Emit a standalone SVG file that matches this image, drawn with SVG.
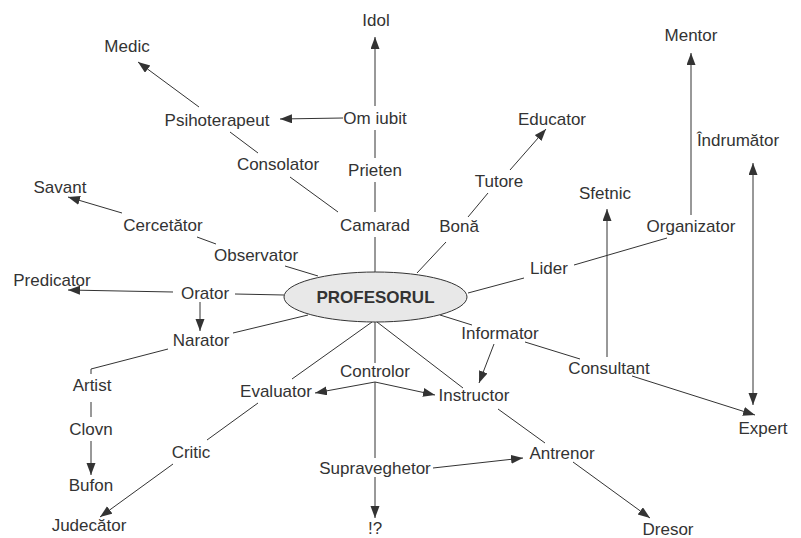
<svg xmlns="http://www.w3.org/2000/svg" width="801" height="538" viewBox="0 0 801 538">
<defs>
<marker id="ah" markerUnits="userSpaceOnUse" markerWidth="13" markerHeight="10" refX="12" refY="4.5" orient="auto-start-reverse">
<path d="M0,0 L12,4.5 L0,9 z" fill="#333"/>
</marker>
<style>
text{font-family:"Liberation Sans",Arial,sans-serif;font-size:17px;fill:#333;text-anchor:middle}
.c line,.c polyline{stroke:#333;stroke-width:1;fill:none}
.a{marker-end:url(#ah)}
.b{marker-start:url(#ah);marker-end:url(#ah)}
</style>
</defs>
<rect width="801" height="538" fill="#fff"/>
<g class="c" id="connectors">
<line class="a" x1="375" y1="106" x2="375" y2="37"/>
<line class="a" x1="343" y1="118" x2="280" y2="119"/>
<line class="a" x1="199" y1="107" x2="138" y2="62"/>
<line x1="230" y1="132" x2="258" y2="153"/>
<line x1="290" y1="177" x2="338" y2="212"/>
<line x1="375" y1="182" x2="375" y2="212"/>
<line x1="375" y1="130" x2="375" y2="158"/>
<line x1="375" y1="237" x2="375" y2="272"/>
<line x1="446" y1="242" x2="417" y2="273"/>
<line x1="488" y1="193" x2="468" y2="217"/>
<line class="a" x1="510" y1="170" x2="546" y2="129"/>
<line class="a" x1="691" y1="215" x2="691" y2="53"/>
<line x1="574" y1="265" x2="667" y2="238"/>
<line class="a" x1="607" y1="357" x2="607" y2="209"/>
<line class="b" x1="753" y1="163" x2="753" y2="405"/>
<line x1="468" y1="293" x2="524" y2="278"/>
<line x1="285" y1="266" x2="318" y2="276"/>
<line x1="197" y1="237" x2="216" y2="244"/>
<line class="a" x1="122" y1="213" x2="68" y2="197"/>
<line x1="235" y1="294" x2="284" y2="295"/>
<line class="a" x1="173" y1="292" x2="68" y2="290"/>
<line class="a" x1="200" y1="302" x2="200" y2="331"/>
<line x1="233" y1="333" x2="308" y2="315"/>
<polyline points="168,349 91,369 91,374"/>
<line x1="91" y1="402" x2="91" y2="417"/>
<line class="a" x1="91" y1="441" x2="91" y2="475"/>
<line x1="292" y1="379" x2="372" y2="322"/>
<line x1="207" y1="440" x2="258" y2="403"/>
<line class="a" x1="173" y1="464" x2="100" y2="517"/>
<line class="a" x1="375" y1="382" x2="315" y2="393"/>
<line class="a" x1="375" y1="382" x2="435" y2="395"/>
<line x1="375" y1="322" x2="375" y2="363"/>
<line x1="375" y1="382" x2="375" y2="458"/>
<line class="a" x1="375" y1="477" x2="375" y2="518"/>
<line class="a" x1="433" y1="468" x2="523" y2="458"/>
<line x1="377" y1="322" x2="463" y2="388"/>
<line x1="440" y1="315" x2="472" y2="325"/>
<line class="a" x1="494" y1="344" x2="479" y2="383"/>
<line x1="525" y1="342" x2="580" y2="359"/>
<line class="a" x1="632" y1="376" x2="755" y2="415"/>
<line x1="498" y1="409" x2="545" y2="443"/>
<line class="a" x1="573" y1="462" x2="650" y2="518"/>
</g>
<g id="profesorul">
<ellipse cx="375.5" cy="297" rx="91.5" ry="25" fill="#e8e8e8" stroke="#333" stroke-width="1"/>
<text x="375.5" y="303" font-weight="bold">PROFESORUL</text>
</g>
<g id="idol"><text x="376" y="26">Idol</text></g>
<g id="medic"><text x="127" y="52">Medic</text></g>
<g id="psihoterapeut"><text x="217" y="126">Psihoterapeut</text></g>
<g id="om-iubit"><text x="375" y="124">Om iubit</text></g>
<g id="consolator"><text x="278" y="170">Consolator</text></g>
<g id="prieten"><text x="375" y="176">Prieten</text></g>
<g id="savant"><text x="60" y="193">Savant</text></g>
<g id="cercetator"><text x="163" y="231">Cercetător</text></g>
<g id="camarad"><text x="375" y="231">Camarad</text></g>
<g id="bona"><text x="459" y="232">Bonă</text></g>
<g id="tutore"><text x="499" y="187">Tutore</text></g>
<g id="educator"><text x="552" y="125">Educator</text></g>
<g id="mentor"><text x="691" y="41">Mentor</text></g>
<g id="indrumator"><text x="738" y="146">Îndrumător</text></g>
<g id="sfetnic"><text x="605" y="199">Sfetnic</text></g>
<g id="organizator"><text x="691" y="232">Organizator</text></g>
<g id="observator"><text x="256" y="261">Observator</text></g>
<g id="lider"><text x="549" y="274">Lider</text></g>
<g id="predicator"><text x="52" y="286">Predicator</text></g>
<g id="orator"><text x="205" y="299">Orator</text></g>
<g id="narator"><text x="201" y="346">Narator</text></g>
<g id="informator"><text x="500" y="339">Informator</text></g>
<g id="artist"><text x="92" y="391">Artist</text></g>
<g id="controlor"><text x="375" y="377">Controlor</text></g>
<g id="evaluator"><text x="276" y="397">Evaluator</text></g>
<g id="instructor"><text x="474" y="401">Instructor</text></g>
<g id="consultant"><text x="609" y="374">Consultant</text></g>
<g id="clovn"><text x="91" y="435">Clovn</text></g>
<g id="critic"><text x="191" y="458">Critic</text></g>
<g id="expert"><text x="763" y="434">Expert</text></g>
<g id="antrenor"><text x="562" y="459">Antrenor</text></g>
<g id="supraveghetor"><text x="375" y="474">Supraveghetor</text></g>
<g id="bufon"><text x="91" y="491">Bufon</text></g>
<g id="judecator"><text x="89" y="531">Judecător</text></g>
<g id="q"><text x="375" y="534">!?</text></g>
<g id="dresor"><text x="668" y="535">Dresor</text></g>
</svg>
